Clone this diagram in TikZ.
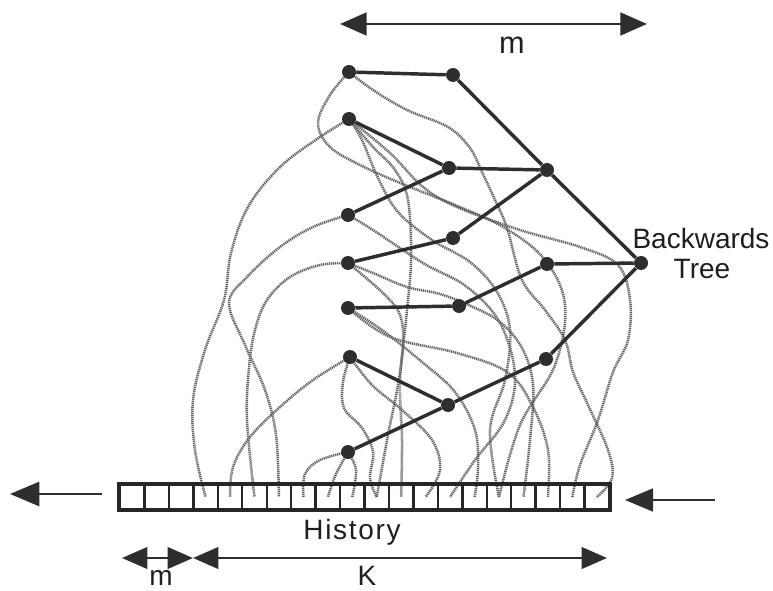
\documentclass[tikz,border=0pt]{standalone}
\usepackage{fontspec}
\setmainfont{Liberation Sans}
\usetikzlibrary{arrows.meta}
\pgfdeclarelayer{bg}
\pgfsetlayers{bg,main}
\begin{document}
\begin{tikzpicture}[x=0.75pt,y=-0.75pt,
  dot/.style={circle,fill=black!82,inner sep=0pt,minimum size=10.5pt},
  edge/.style={line width=2.6pt,black!82},
  trail/.style={line width=1.9pt,black!62,dash pattern=on 0.9pt off 0.6pt},
  cellbox/.style={draw=black!85,line width=1.8pt,minimum width=18.34pt,minimum height=18.75pt,inner sep=0pt},
  dimline/.style={line width=2.2pt,black!82},
  lbl/.style={font=\fontsize{21}{25}\selectfont,text=black!88,inner sep=0pt}]
\useasboundingbox (0,0) rectangle (773,591);

% tree nodes
\node[dot] (a1) at (349,72) {};
\node[dot] (a2) at (349,119) {};
\node[dot] (a3) at (348,215) {};
\node[dot] (a4) at (348,263) {};
\node[dot] (a5) at (348,308) {};
\node[dot] (a6) at (350,357) {};
\node[dot] (a7) at (348,452) {};
\node[dot] (b1) at (453,75) {};
\node[dot] (b2) at (449,168) {};
\node[dot] (b3) at (453,238) {};
\node[dot] (b4) at (459,306) {};
\node[dot] (b5) at (448,405) {};
\node[dot] (c1) at (547,170) {};
\node[dot] (c2) at (547,264) {};
\node[dot] (c3) at (546,359) {};
\node[dot] (d1) at (641,263) {};

% history cells
\foreach \i in {1,...,20}
  \node[cellbox] (h\i) at ({120+24.45*(\i-0.5)},497) {};

% tree edges
\draw[edge] (a1) -- (b1) -- (c1) -- (d1);
\draw[edge] (a2) -- (b2) -- (c1);
\draw[edge] (a3) -- (b2);
\draw[edge] (a4) -- (b3) -- (c1);
\draw[edge] (a5) -- (b4) -- (c2) -- (d1);
\draw[edge] (a6) -- (b5) -- (c3) -- (d1);
\draw[edge] (a7) -- (b5);

% dotted trails
\begin{pgfonlayer}{bg}
\draw[trail] plot[smooth,tension=0.6] coordinates {(a2.center) (320,137) (280,167) (248,207) (231,253) (224,300) (205,350) (193,400) (195,450) (h4.center)};
\draw[trail] plot[smooth,tension=0.6] coordinates {(a1.center) (330,95) (318,123) (330,147) (362,166) (405,185) (455,205) (505,228) (545,260) (565,305) (555,365) (520,425) (h16.center)};
\draw[trail] plot[smooth,tension=0.6] coordinates {(a3.center) (313,227) (280,247) (247,277) (229,303) (245,345) (265,390) (276,435) (h7.center)};
\draw[trail] plot[smooth,tension=0.6] coordinates {(a4.center) (320,265) (290,277) (267,300) (255,330) (249,368) (247,420) (h6.center)};
\draw[trail] plot[smooth,tension=0.6] coordinates {(a6.center) (313,380) (280,407) (250,437) (233,467) (h5.center)};
\draw[trail] plot[smooth,tension=0.6] coordinates {(a7.center) (320,460) (305,474) (h8.center)};
\draw[trail] plot[smooth,tension=0.6] coordinates {(a7.center) (336,474) (h9.center)};
\draw[trail] plot[smooth,tension=0.6] coordinates {(a7.center) (356,470) (h10.center)};
\draw[trail] plot[smooth,tension=0.6] coordinates {(a2.center) (373,147) (395,170) (408,200) (411,260) (406,320) (400,380) (402,440) (h12.center)};
\draw[trail] plot[smooth,tension=0.6] coordinates {(a2.center) (390,153) (423,187) (457,207) (520,230) (580,247) (618,265) (630,300) (628,340) (613,372) (598,420) (580,465) (h19.center)};
\draw[trail] plot[smooth,tension=0.6] coordinates {(a1.center) (373,90) (407,110) (448,127) (470,148) (482,172) (495,200) (507,228) (522,280) (545,310) (565,340) (573,372) (588,405) (608,450) (612,478) (h20.center)};
\draw[trail] plot[smooth,tension=0.6] coordinates {(a3.center) (373,230) (423,263) (467,287) (500,323) (515,375) (505,420) (475,460) (h14.center)};
\draw[trail] plot[smooth,tension=0.6] coordinates {(a4.center) (373,273) (407,287) (440,294) (473,307) (500,322) (522,348) (533,385) (530,440) (h17.center)};
\draw[trail] plot[smooth,tension=0.6] coordinates {(a4.center) (383,293) (400,315) (403,345) (398,385) (388,435) (h11.center)};
\draw[trail] plot[smooth,tension=0.6] coordinates {(a5.center) (390,337) (457,353) (507,372) (532,405) (548,450) (h18.center)};
\draw[trail] plot[smooth,tension=0.6] coordinates {(a6.center) (372,385) (402,410) (432,440) (440,470) (h13.center)};
\draw[trail] plot[smooth,tension=0.6] coordinates {(a6.center) (343,382) (344,408) (362,428) (373,452) (370,478) (h11.center)};
\draw[trail] plot[smooth,tension=0.6] coordinates {(a5.center) (382,330) (422,362) (455,392) (475,430) (478,468) (h15.center)};
\draw[trail] plot[smooth,tension=0.6] coordinates {(a2.center) (362,140) (378,178) (398,212) (432,240) (470,262) (497,292) (510,330) (505,380) (490,430) (h16.center)};
\end{pgfonlayer}

% outer frame of history
\draw[black!85,line width=2.2pt] (h1.north west) rectangle (h20.south east);

% dimension arrows
\coordinate (tl) at (340,24);
\coordinate (tr) at (647,24);
\draw[dimline,{Triangle[length=20pt,width=17pt]}-{Triangle[length=20pt,width=17pt]}] (tl) -- (tr);
\node[lbl,font=\fontsize{23}{26}\selectfont] (mtop) at (512,45) {m};

\coordinate (ml) at (122,558);
\coordinate (mid) at (193,558);
\coordinate (kr) at (607,558);
\draw[dimline,{Triangle[length=19pt,width=16pt]}-{Triangle[length=19pt,width=16pt]}] (ml) -- (mid);
\draw[dimline,{Triangle[length=19pt,width=16pt]}-{Triangle[length=19pt,width=16pt]}] (mid) -- (kr);
\node[lbl] (mbot) at (161,578) {m};
\node[lbl] (kbot) at (367,576) {K};

% in/out arrows
\coordinate (lo0) at (102,494);
\coordinate (lo1) at (10,494);
\draw[dimline,-{Triangle[length=22pt,width=18pt]}] (lo0) -- (lo1);
\coordinate (ri0) at (715,500);
\coordinate (ri1) at (625,500);
\draw[dimline,-{Triangle[length=21pt,width=17pt]}] (ri0) -- (ri1);

% labels
\node[lbl,font=\fontsize{21}{25}\selectfont\addfontfeature{LetterSpace=6}] (hist) at (352,532) {History};
\node[lbl] (bw) at (701,238) {Backwards};
\node[lbl] (tree) at (702,269) {Tree};
\end{tikzpicture}
\end{document}
